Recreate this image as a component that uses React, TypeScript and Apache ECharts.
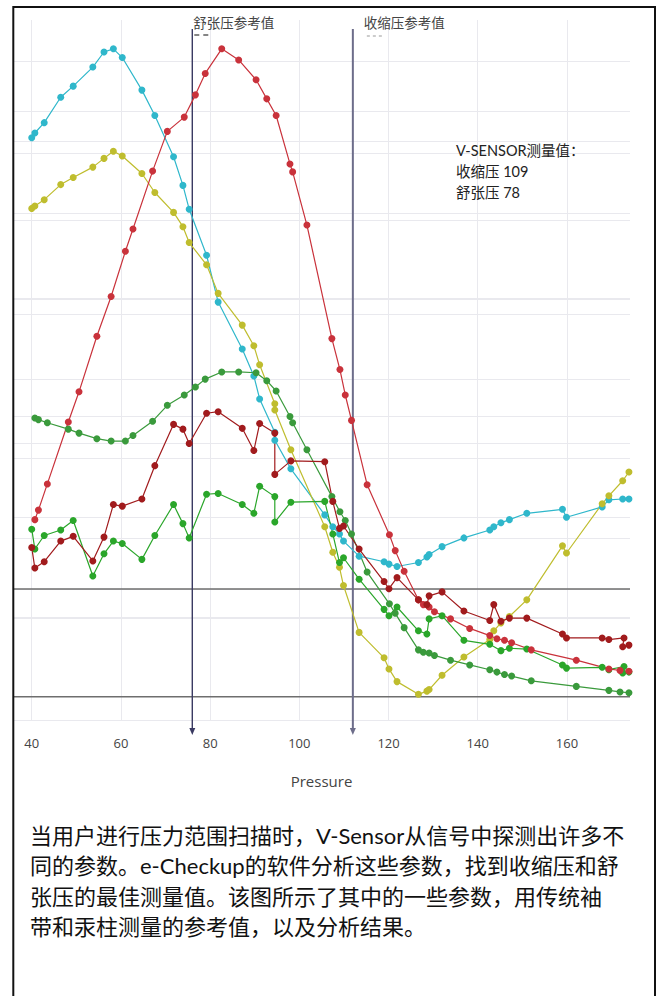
import React, { useEffect, useRef } from "react";
import * as echarts from "echarts";

// ---------- axis ranges ----------
const X_MIN = 35.8;
const X_MAX = 174.14;
const X_TICK_STEP = 20;
const Y_A_MIN = -2.934; // amplitude axis (grid every 10)
const Y_A_MAX = 85.23;
const Y_B_MIN = 0; // secondary grid axis (grid every 20)
const Y_B_MAX = 138.07;
const Y_C_MIN = -45.08; // third grid axis (grid every 50)
const Y_C_MAX = 195.8;

// ---------- reference values ----------
const DIASTOLIC_REF = 76;
const SYSTOLIC_REF = 112;
const VSENSOR_SYS = 109;
const VSENSOR_DIA = 78;

// ---------- series: [pressure, amplitude] ----------
const cyanData = [
  [40.0, 70.4], [40.7, 71.0], [42.8, 72.3], [46.5, 75.5], [49.3, 76.9], [53.7, 79.3], [56.2, 81.2],
  [58.3, 81.6], [60.3, 80.5], [64.7, 76.4], [67.6, 73.2], [71.8, 68.0], [73.9, 64.4], [75.3, 61.4],
  [79.2, 55.6], [81.8, 49.7], [87.2, 43.8], [89.8, 40.4], [91.1, 37.5], [94.5, 33.3], [94.5, 32.3],
  [98.1, 28.7], [105.7, 22.9], [107.5, 21.4], [109.0, 20.5], [109.9, 19.6], [113.4, 17.7], [119.0, 17.0],
  [120.1, 16.7], [121.9, 16.4], [126.7, 16.9], [128.6, 17.6], [129.1, 17.9], [132.0, 18.9], [136.9, 20.0],
  [142.7, 21.0], [143.6, 21.4], [145.2, 21.9], [147.1, 22.3], [151.0, 23.1], [159.0, 23.6], [159.9, 22.6],
  [167.9, 23.9], [169.4, 24.8], [172.5, 24.9], [173.9, 24.9],
];

const yellowData = [
  [40.0, 61.5], [40.7, 61.8], [42.8, 62.6], [46.5, 64.5], [49.3, 65.4], [53.7, 66.7], [56.2, 67.8],
  [58.3, 68.7], [60.3, 68.1], [64.7, 65.9], [67.6, 63.5], [71.8, 61.0], [73.9, 59.2], [75.3, 57.2],
  [79.2, 54.4], [81.8, 50.8], [87.2, 46.8], [89.8, 44.2], [91.1, 41.8], [94.5, 36.9], [94.5, 36.1],
  [98.1, 31.1], [105.7, 21.4], [107.5, 18.2], [109.0, 16.3], [109.9, 14.0], [113.4, 8.1], [119.0, 4.9],
  [120.1, 3.5], [121.9, 1.9], [126.7, 0.3], [128.6, 0.7], [129.1, 0.9], [132.0, 2.7], [136.9, 5.0],
  [142.7, 7.2], [143.6, 8.3], [145.2, 9.3], [147.1, 10.1], [151.0, 12.2], [159.0, 19.0], [159.9, 18.1],
  [167.9, 24.3], [169.4, 25.3], [172.5, 27.2], [173.9, 28.3],
];

const redData = [
  [40.7, 22.3], [41.5, 23.5], [43.5, 26.8], [48.2, 34.6], [50.6, 38.4], [54.6, 45.4], [57.8, 50.4],
  [61.0, 56.1], [62.7, 58.9], [67.1, 66.2], [70.4, 71.2], [74.2, 73.0], [76.7, 75.8], [78.9, 78.5],
  [82.6, 81.6], [86.4, 80.2], [90.3, 77.7], [92.7, 75.3], [94.8, 73.2], [97.9, 67.1], [98.5, 66.1],
  [101.7, 59.4], [107.3, 45.1], [109.1, 41.2], [110.3, 38.0], [111.7, 34.8], [115.2, 26.7], [120.2, 20.4],
  [121.5, 18.4], [123.5, 15.8], [126.7, 12.2], [127.8, 11.6], [129.1, 11.3], [130.3, 10.7], [133.9, 9.8],
  [138.2, 8.6], [142.7, 7.7], [144.3, 7.3], [146.0, 7.1], [147.6, 6.8], [152.0, 5.9], [162.1, 4.6],
  [169.4, 3.5], [171.9, 3.3], [173.9, 3.2],
];

const darkRedData = [
  [40.0, 18.8], [40.7, 16.2], [42.8, 17.0], [46.5, 19.6], [49.3, 20.2], [53.7, 17.1], [56.2, 20.1],
  [58.3, 24.2], [60.3, 24.0], [64.7, 24.9], [67.6, 29.1], [71.8, 34.3], [73.9, 33.7], [75.3, 31.9],
  [79.2, 35.7], [81.8, 35.9], [87.2, 33.8], [89.8, 31.0], [91.1, 34.4], [94.5, 33.2], [94.5, 28.0],
  [98.1, 29.7], [105.7, 29.6], [107.5, 24.6], [109.0, 21.2], [109.9, 21.5], [113.4, 18.6], [119.0, 14.5],
  [120.1, 13.6], [121.9, 15.0], [126.7, 12.2], [128.6, 11.6], [129.1, 12.7], [132.0, 13.2], [136.9, 10.8],
  [142.7, 9.6], [143.6, 11.6], [145.2, 9.5], [147.1, 9.9], [151.0, 9.9], [159.0, 7.9], [159.9, 7.4],
  [167.9, 7.4], [169.4, 7.2], [172.8, 7.4], [172.5, 6.3], [173.9, 6.5],
];

const greenUpperData = [
  [40.7, 35.1], [41.5, 34.9], [43.5, 34.5], [48.2, 33.7], [50.6, 33.2], [54.6, 32.5], [57.8, 32.2],
  [61.0, 32.2], [62.7, 32.9], [67.1, 34.7], [70.4, 36.7], [74.2, 38.0], [76.7, 39.0], [78.9, 40.0],
  [82.6, 40.9], [86.4, 40.9], [90.3, 40.8], [92.7, 39.8], [94.8, 38.5], [97.9, 35.3], [98.5, 34.5],
  [101.7, 31.1], [107.3, 25.2], [109.1, 23.3], [110.3, 22.2], [111.7, 20.5], [115.2, 15.7], [120.2, 11.7],
  [121.5, 10.5], [123.5, 8.7], [126.7, 5.9], [127.8, 5.6], [129.1, 5.5], [130.3, 5.2], [133.9, 4.6],
  [138.2, 4.0], [142.7, 3.4], [144.3, 3.1], [146.0, 2.8], [147.6, 2.6], [152.0, 2.0], [162.1, 1.3],
  [169.4, 0.8], [171.9, 0.6], [173.9, 0.5],
];

const greenLowerData = [
  [40.0, 21.1], [40.7, 18.6], [42.8, 20.3], [46.5, 21.0], [49.3, 22.2], [53.7, 15.2], [56.2, 18.0],
  [58.3, 19.6], [60.3, 19.3], [64.7, 17.3], [67.6, 20.3], [71.8, 24.2], [73.9, 21.8], [75.3, 20.0],
  [79.2, 25.5], [81.8, 25.6], [87.2, 24.2], [89.8, 23.1], [91.1, 26.5], [94.5, 25.2], [94.5, 22.0],
  [98.1, 24.5], [105.7, 24.6], [107.5, 20.5], [109.0, 16.9], [109.9, 17.5], [113.4, 14.8], [119.0, 11.0],
  [120.1, 10.2], [121.9, 11.3], [126.7, 8.3], [128.6, 7.9], [129.1, 9.8], [132.0, 10.2], [136.9, 7.1],
  [142.7, 6.6], [145.2, 5.8], [147.1, 6.1], [151.0, 6.0], [159.0, 4.0], [159.9, 3.6], [167.9, 3.7],
  [169.4, 3.4], [172.8, 3.8], [172.5, 3.0], [173.9, 3.1],
];

// ---------- texts ----------
const X_AXIS_NAME = "Pressure";
const DIA_REF_LABEL = "舒张压参考值";
const SYS_REF_LABEL = "收缩压参考值";
const VSENSOR_LINES = ["V-SENSOR测量值：", `收缩压 ${VSENSOR_SYS}`, `舒张压 ${VSENSOR_DIA}`];
const PARAGRAPH_LINES = [
  "当用户进行压力范围扫描时，V-Sensor从信号中探测出许多不",
  "同的参数。e-Checkup的软件分析这些参数，找到收缩压和舒",
  "张压的最佳测量值。该图所示了其中的一些参数，用传统袖",
  "带和汞柱测量的参考值，以及分析结果。",
];

const GRID_COLOR = "#e9e9ee";
const ZERO_COLOR = "#6e6e6e";
const CJK = "Lato, 'Noto Sans CJK SC', sans-serif";

export default function App() {
  const ref = useRef<HTMLDivElement>(null);

  useEffect(() => {
    const el = ref.current;
    if (!el) return;
    const chart = echarts.init(el, null, { renderer: "svg" });

    const mk = (name: string, data: number[][], color: string, z = 3) => ({
      name,
      type: "line",
      data,
      xAxisIndex: 0,
      yAxisIndex: 0,
      symbol: "circle",
      symbolSize: 7,
      showSymbol: true,
      lineStyle: { color, width: 1.2 },
      itemStyle: { color },
      emphasis: { disabled: true },
      z,
    });

    const hiddenY = (min: number, max: number, split: number, showMin: boolean) => ({
      type: "value",
      min,
      max,
      splitNumber: split,
      axisLabel: { show: false },
      axisLine: { show: false },
      axisTick: { show: false },
      splitLine: {
        show: true,
        showMinLine: showMin,
        showMaxLine: false,
        lineStyle: { color: GRID_COLOR, width: 1 },
      },
    });

    chart.setOption({
      animation: false,
      backgroundColor: "#ffffff",
      grid: { left: 13, right: 32, top: 20, bottom: 276, containLabel: false, outerBoundsMode: "none" },
      xAxis: {
        type: "value",
        min: X_MIN,
        max: X_MAX,
        splitNumber: 7,
        name: X_AXIS_NAME,
        nameLocation: "middle",
        nameGap: 53,
        nameTextStyle: { color: "#444", fontSize: 15, fontFamily: "'Open Sans', sans-serif" },
        axisLine: { show: false, onZero: false },
        axisTick: { show: false },
        axisLabel: {
          show: true,
          margin: 16,
          color: "#444",
          fontSize: 13,
          fontFamily: "'Open Sans', sans-serif",
          showMinLabel: false,
          showMaxLabel: false,
          formatter: (v: number) => (Math.abs(v % X_TICK_STEP) < 1e-6 ? String(v) : ""),
        },
        splitLine: {
          show: true,
          showMinLine: false,
          showMaxLine: false,
          lineStyle: { color: GRID_COLOR, width: 1 },
        },
      },
      yAxis: [
        hiddenY(Y_A_MIN, Y_A_MAX, 9, false),
        hiddenY(Y_B_MIN, Y_B_MAX, 7, true),
        hiddenY(Y_C_MIN, Y_C_MAX, 5, false),
      ],
      series: [
        mk("cyan", cyanData, "#2fb7cb"),
        mk("yellow", yellowData, "#bfbd2e"),
        mk("greenUpper", greenUpperData, "#3a9a3c"),
        mk("greenLower", greenLowerData, "#2aa62a"),
        mk("red", redData, "#c9323b"),
        mk("darkRed", darkRedData, "#a11b1d"),
      ],
    });

    const xDia = chart.convertToPixel({ xAxisIndex: 0 }, DIASTOLIC_REF) as number;
    const xSys = chart.convertToPixel({ xAxisIndex: 0 }, SYSTOLIC_REF) as number;
    const yZeroA = chart.convertToPixel({ yAxisIndex: 0 }, 0) as number;
    const yZeroC = chart.convertToPixel({ yAxisIndex: 2 }, 0) as number;
    const gLeft = chart.convertToPixel({ xAxisIndex: 0 }, X_MIN) as number;
    const gRight = chart.convertToPixel({ xAxisIndex: 0 }, X_MAX) as number;

    const arrow = (x: number, color: string, width: number) => [
      { type: "line", z: 1, silent: true, shape: { x1: x, y1: 29, x2: x, y2: 729 }, style: { stroke: color, lineWidth: width } },
      {
        type: "polygon",
        z: 1,
        silent: true,
        shape: { points: [[x - 3, 728], [x + 3, 728], [x, 735]] },
        style: { fill: color },
      },
    ];

    const graphic: any[] = [
      { type: "line", z: 1, silent: true, shape: { x1: gLeft, y1: yZeroA, x2: gRight, y2: yZeroA }, style: { stroke: ZERO_COLOR, lineWidth: 1.6 } },
      { type: "line", z: 1, silent: true, shape: { x1: gLeft, y1: yZeroC, x2: gRight, y2: yZeroC }, style: { stroke: ZERO_COLOR, lineWidth: 1.6 } },
      ...arrow(xDia, "#3a3a62", 1.4),
      ...arrow(xSys, "#6d6d8a", 2),
      {
        type: "text", z: 10, silent: true, x: xDia + 1, y: 23,
        style: { text: DIA_REF_LABEL, fontSize: 13.5, fill: "#444", fontFamily: CJK, verticalAlign: "middle", align: "left" },
      },
      {
        type: "text", z: 10, silent: true, x: xSys + 11, y: 23,
        style: { text: SYS_REF_LABEL, fontSize: 13.5, fill: "#444", fontFamily: CJK, verticalAlign: "middle", align: "left" },
      },
      { type: "line", z: 10, silent: true, shape: { x1: xDia + 2, y1: 35, x2: xDia + 7, y2: 35 }, style: { stroke: "#333", lineWidth: 1.2 } },
      { type: "line", z: 10, silent: true, shape: { x1: xDia + 11, y1: 35, x2: xDia + 16, y2: 35 }, style: { stroke: "#333", lineWidth: 1.2 } },
      { type: "line", z: 10, silent: true, shape: { x1: xSys + 14, y1: 36, x2: xSys + 17, y2: 36 }, style: { stroke: "#999", lineWidth: 1 } },
      { type: "line", z: 10, silent: true, shape: { x1: xSys + 20, y1: 36, x2: xSys + 23, y2: 36 }, style: { stroke: "#999", lineWidth: 1 } },
      { type: "line", z: 10, silent: true, shape: { x1: xSys + 26, y1: 36, x2: xSys + 29, y2: 36 }, style: { stroke: "#999", lineWidth: 1 } },
      ...VSENSOR_LINES.map((t, i) => ({
        type: "text", z: 10, silent: true, x: 456, y: 150 + i * 21,
        style: { text: t, fontSize: 14.5, fill: "#222", fontFamily: CJK, verticalAlign: "middle", align: "left" },
      })),
      ...PARAGRAPH_LINES.map((t, i) => ({
        type: "text", z: 10, silent: true, x: 30, y: 835 + i * 30.5,
        style: { text: t, fontSize: 22, fill: "#111", fontFamily: CJK, verticalAlign: "middle", align: "left" },
      })),
      {
        type: "rect", z: 20, silent: true,
        shape: { x: 13.3, y: 6.9, width: 641.7, height: 1010 },
        style: { fill: "none", stroke: "#111", lineWidth: 2 },
      },
    ];

    chart.setOption({ graphic });

    return () => chart.dispose();
  }, []);

  return (
    <div
      ref={ref}
      style={{ position: "absolute", left: 0, top: 0, width: 662, height: 996, background: "#fff" }}
    />
  );
}
